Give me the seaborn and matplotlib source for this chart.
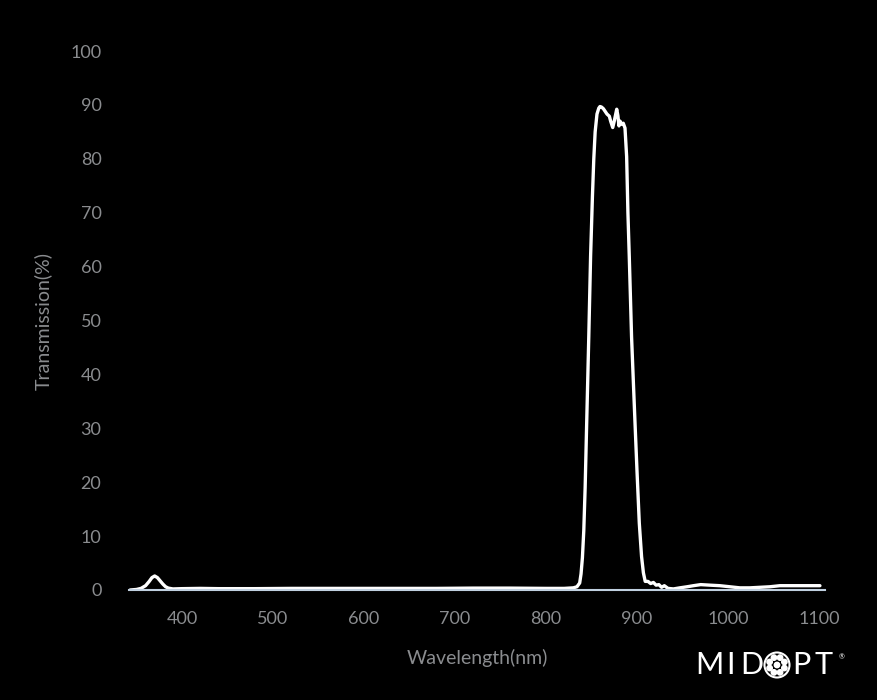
import matplotlib
matplotlib.use("Agg")
import matplotlib.pyplot as plt
import seaborn as sns
import pandas as pd
from matplotlib.patches import Circle
import numpy as np

# ---- data ----
wavelength = [343, 350, 355, 360, 364, 367, 370, 373, 376, 379, 382, 385, 390, 400, 420, 440,
              480, 520, 560, 600, 640, 680, 720, 760, 800, 820, 830, 834, 837, 838.5, 840,
              841.5, 843, 844.7, 847, 849, 851, 852.5, 854, 856, 858, 859.3, 861, 863, 865,
              867, 869.6, 871, 873.3, 875, 877.7, 879, 880.2, 881.3, 883.1, 884.9, 886.8,
              888.6, 890, 891.5, 894, 896, 897.8, 900, 902.5, 905, 907, 909, 912, 915, 918,
              921, 924, 927, 930, 934, 940, 947, 955, 962, 970, 980, 991, 1002, 1013, 1024,
              1035, 1046, 1057, 1070, 1085, 1101]
transmission = [0.0, 0.1, 0.3, 0.8, 1.6, 2.3, 2.6, 2.3, 1.7, 1.1, 0.6, 0.35, 0.2, 0.25, 0.3,
                0.25, 0.25, 0.3, 0.3, 0.3, 0.3, 0.3, 0.35, 0.35, 0.3, 0.3, 0.4, 0.6, 1.3, 3.0,
                6.0, 11.0, 19.0, 31.0, 47.0, 62.0, 73.0, 80.0, 85.0, 88.3, 89.4, 89.7, 89.6,
                89.3, 88.8, 88.3, 87.9, 87.0, 85.8, 87.0, 89.2, 88.0, 86.1, 87.0, 86.4, 86.6,
                85.7, 80.4, 70.0, 61.8, 47.0, 38.5, 31.0, 22.0, 12.4, 6.2, 3.2, 1.6, 1.6, 1.2,
                1.4, 0.9, 1.0, 0.5, 0.8, 0.3, 0.2, 0.4, 0.6, 0.8, 1.0, 0.9, 0.8, 0.6, 0.4, 0.4,
                0.5, 0.6, 0.8, 0.8, 0.8, 0.8]
x_ticks = [400, 500, 600, 700, 800, 900, 1000, 1100]
y_ticks = [0, 10, 20, 30, 40, 50, 60, 70, 80, 90, 100]

df = pd.DataFrame({"Wavelength": wavelength, "Transmission": transmission})

sns.set_theme(style="dark")
plt.rcParams["font.family"] = ["Lato", "DejaVu Sans"]

W, H = 878, 700
fig = plt.figure(figsize=(W / 100, H / 100), dpi=100, facecolor="black")
ax_left, ax_right, ax_top, ax_bottom = 129.2, 825.4, 51, 590
ax = fig.add_axes([ax_left / W, (H - ax_bottom) / H, (ax_right - ax_left) / W, (ax_bottom - ax_top) / H])
ax.set_facecolor("black")

sns.lineplot(data=df, x="Wavelength", y="Transmission", ax=ax, color="white",
             linewidth=2.4, sort=False, estimator=None)

ax.set_xlim(342, 1107)
ax.set_ylim(0, 100)
ax.set_xticks(x_ticks)
ax.set_yticks(y_ticks)
ax.grid(False)

label_color = "#8a8c8f"
ax.tick_params(axis="x", colors="#c0d0e0", length=6, width=1.2, pad=9, labelsize=13,
               labelcolor=label_color, direction="out")
ax.tick_params(axis="y", length=0, pad=20, labelsize=13, labelcolor=label_color)
for s in ["top", "right", "left"]:
    ax.spines[s].set_visible(False)
ax.spines["bottom"].set_color("#c0d0e0")
ax.spines["bottom"].set_linewidth(1.5)

ax.set_xlabel("Wavelength(nm)", color=label_color, fontsize=14, labelpad=16)
ax.set_ylabel("Transmission(%)", color=label_color, fontsize=14, labelpad=13)

# ---- logo ----
lx, ly, lw, lh = 690, 645, 165, 40
lax = fig.add_axes([lx / W, (H - ly - lh) / H, lw / W, lh / H])
lax.set_xlim(lx, lx + lw)
lax.set_ylim(ly + lh, ly)
lax.axis("off")
lax.patch.set_alpha(0)
for ch, cx in [("M", 709.5), ("I", 731), ("D", 751.5), ("P", 801.5), ("T", 824)]:
    lax.text(cx, 665.5, ch, color="white", fontsize=22, fontweight="normal",
             ha="center", va="center", family=["Lato", "DejaVu Sans"])
lax.text(842, 657, "®", color="white", fontsize=5, ha="center", va="center")
ccx, ccy = 777, 665
lax.add_patch(Circle((ccx, ccy), 12.5, fill=False, ec="white", lw=1.5))
lax.add_patch(Circle((ccx, ccy), 2.7, color="white"))
for ang in np.arange(0, 360, 45):
    a = np.deg2rad(ang + 22.5)
    lax.add_patch(Circle((ccx + 8 * np.cos(a), ccy + 8 * np.sin(a)), 2.7, color="white"))

fig.savefig("out.png", dpi=100, facecolor="black")
